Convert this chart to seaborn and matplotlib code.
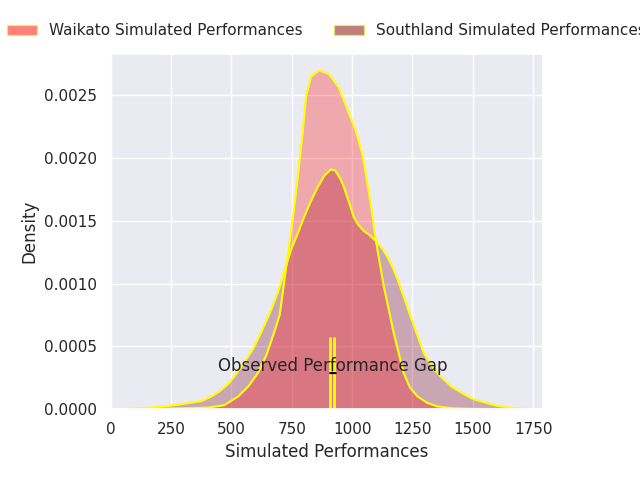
import matplotlib
matplotlib.use('Agg')
import matplotlib.pyplot as plt
import seaborn as sns
import pandas as pd
from matplotlib.patches import Patch
from matplotlib.ticker import MultipleLocator

# density curves
waikato_x = [100, 250, 400, 470, 528, 570, 611, 645, 677, 700, 714, 733, 754, 775, 795, 809,
             830, 863, 904, 945, 982, 1015, 1044, 1065, 1077, 1098, 1131, 1172, 1213, 1240,
             1271, 1310, 1354, 1420, 1500, 1560]
waikato_y = [0.0, 0.000003, 0.00001, 0.00003, 0.0001, 0.00018, 0.00029, 0.00043, 0.00061,
             0.00075, 0.00095, 0.00122, 0.00151, 0.00185, 0.0022, 0.00249, 0.00265, 0.0027,
             0.00267, 0.00256, 0.00238, 0.00222, 0.00202, 0.00178, 0.00164, 0.00135, 0.00098,
             0.00061, 0.00029, 0.00017, 0.0001, 0.00005, 0.00002, 0.000005, 0.000001, 0.0]

southland_x = [74, 150, 239, 300, 376, 417, 450, 487, 520, 553, 590, 623, 660, 693, 720, 747,
               775, 801, 830, 858, 885, 912, 930, 950, 966, 985, 1007, 1025, 1048, 1070, 1098,
               1125, 1147, 1170, 1189, 1215, 1242, 1270, 1296, 1330, 1366, 1410, 1461, 1500,
               1544, 1600, 1655, 1717]
southland_y = [0.0, 0.000008, 0.000024, 0.00004, 0.000063, 0.0001, 0.00014, 0.0002, 0.00028,
               0.00037, 0.00048, 0.00061, 0.00077, 0.00093, 0.0011, 0.00127, 0.0014, 0.00153,
               0.00166, 0.00177, 0.00186, 0.00191, 0.0019, 0.00184, 0.00177, 0.00166, 0.00153,
               0.00147, 0.00142, 0.00139, 0.00134, 0.00128, 0.00121, 0.00112, 0.00103, 0.00089,
               0.00074, 0.00059, 0.00045, 0.00034, 0.00026, 0.00018, 0.00012, 0.00008,
               0.000055, 0.000025, 0.00001, 0.0]

observed = [909, 927]
gap_label = 'Observed Performance Gap'
labels = ['Waikato Simulated Performances', 'Southland Simulated Performances']

waikato = pd.DataFrame({'x': waikato_x, 'y': waikato_y})
southland = pd.DataFrame({'x': southland_x, 'y': southland_y})

sns.set_theme(style='darkgrid')
fig, ax = plt.subplots(figsize=(6.4, 4.8), dpi=100)
fig.subplots_adjust(left=0.172, right=0.848, top=0.8875, bottom=0.148)

south_col = (0.5, 0.04, 0.15)
ax.fill_between(southland['x'], southland['y'], color=south_col, alpha=0.3, lw=0)
ax.fill_between(waikato['x'], waikato['y'], color='red', alpha=0.28, lw=0)
sns.lineplot(data=southland, x='x', y='y', color='yellow', lw=1.5, ax=ax)
sns.lineplot(data=waikato, x='x', y='y', color='yellow', lw=1.5, ax=ax)

for xv in observed:
    ax.axvline(xv, ymax=0.2, color='yellow', lw=2)
ax.annotate('', xy=(observed[0], 0.000286), xytext=(observed[1] + 5, 0.000286),
            arrowprops=dict(arrowstyle='-', color='black', lw=1.5, shrinkA=0, shrinkB=0))
ax.text(sum(observed) / 2, 0.00034, gap_label, ha='center', va='center', fontsize=12)

ax.set_xlim(-3, 1790)
ax.set_ylim(0, 0.00283)
ax.xaxis.set_major_locator(MultipleLocator(250))
ax.set_xlabel('Simulated Performances')
ax.set_ylabel('Density')

handles = [Patch(facecolor='red', alpha=0.5, edgecolor='yellow'),
           Patch(facecolor='maroon', alpha=0.5, edgecolor='yellow')]
ax.legend(handles, labels, loc='center', bbox_to_anchor=(0.5, 1.065), ncol=2, frameon=False)

plt.savefig('out.png')
